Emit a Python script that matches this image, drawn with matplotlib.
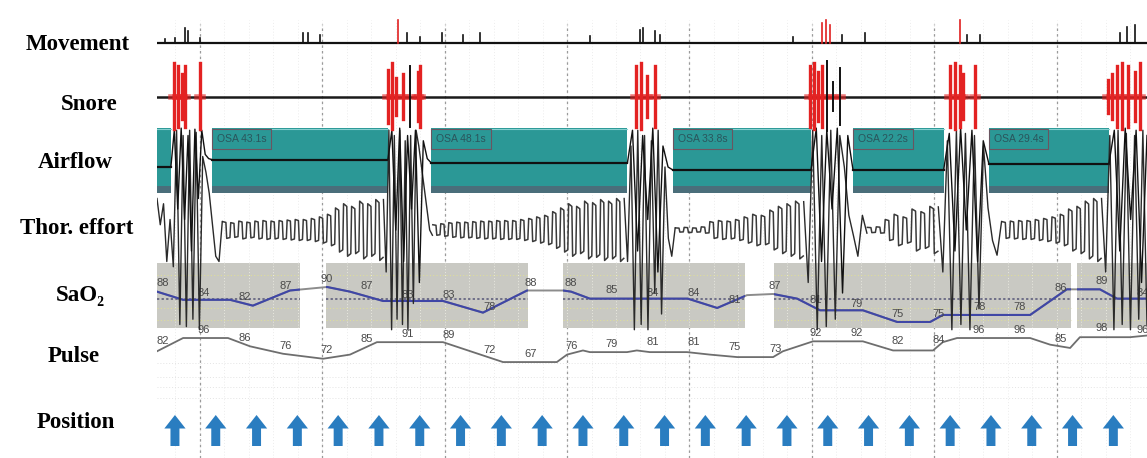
import numpy as np
import matplotlib.pyplot as plt
from matplotlib.patches import FancyArrow

W, H = 1147, 458
X0, X1 = 157, 1147          # left / right edge of the traces, px
PX_PER_S = 4.08
T_END = (X1 - X0) / PX_PER_S

# ---------------- data ----------------
# obstructive apnea events (airflow channel)
osa_start = [13.5, 67.2, 126.5, 170.6, 203.9]
osa_dur = [43.1, 48.1, 33.8, 22.2, 29.4]
osa_flow = [0.67, 0.64, 0.57, 0.57, 0.63]
prev_event = (0.0, 3.4, 0.60)     # tail of an event from the previous page

# thoracic effort during each apnea: one amplitude per breath
effort_win = [(16.0, 55.5), (67.5, 114.5), (127.0, 158.5), (174.0, 191.5), (207.0, 231.5)]
effort_amp = [
    [0.16, 0.14, 0.17, 0.15, 0.17, 0.18, 0.17, 0.18, 0.19, 0.20, 0.20, 0.22, 0.25, 0.30,
     0.42, 0.50, 0.45, 0.55, 0.50, 0.58],
    [0.10, 0.12, 0.14, 0.15, 0.15, 0.16, 0.17, 0.17, 0.18, 0.18, 0.18, 0.20, 0.22, 0.25,
     0.28, 0.35, 0.42, 0.50, 0.45, 0.55, 0.52, 0.58, 0.55, 0.60],
    [0.04, 0.05, 0.04, 0.06, 0.16, 0.18, 0.17, 0.20, 0.25, 0.30, 0.28, 0.38, 0.45, 0.50, 0.55],
    [0.05, 0.06, 0.20, 0.30, 0.25, 0.40, 0.35, 0.45],
    [0.16, 0.17, 0.18, 0.18, 0.20, 0.22, 0.25, 0.30, 0.40, 0.45, 0.55, 0.60],
]

# recovery breathing after each event (effort + airflow swings)
burst_win = [(0.0, 16.0), (55.5, 67.5), (114.5, 127.0), (158.5, 174.0), (191.5, 207.0), (231.5, T_END)]
burst_effort = [
    [0.30, 0.05, 0.25, -0.30, 0.10, -0.35, 0.95, -0.90, 0.90, -0.92, 0.95, -0.85, 0.93, -0.95,
     0.70, 0.55, 0.35, 0.05, -0.25, -0.30, 0.08],
    [0.29, -0.40, 0.95, -0.95, 0.90, -0.85, 0.95, -0.90, 0.85, -0.95, 0.90, -0.70, 0.95, 0.80,
     0.60, 0.40, 0.20, 0.00, -0.05],
    [0.30, -0.30, 0.80, -0.95, 0.95, -0.90, 0.90, -0.95, 0.85, -0.60, 0.95, -0.80, 0.60, -0.08,
     -0.25, 0.02],
    [0.27, -0.50, 0.95, -0.95, 0.90, -0.92, 0.95, -0.85, 0.90, 0.60, 0.14, -0.05, -0.25, 0.14, -0.03],
    [0.22, -0.40, 0.85, -0.95, 0.95, -0.90, 0.92, -0.95, 0.90, -0.75, 0.80, 0.21, -0.10, -0.24, 0.08],
    [0.30, -0.40, 0.90, -0.95, 0.95, -0.90, 0.92, -0.95, 0.90, -0.85, 0.95, -0.90],
]
flow_win = [(3.4, 13.5), (56.6, 67.2), (115.3, 126.5), (160.3, 170.6), (192.8, 203.9), (233.3, T_END)]
burst_flow = [
    [0.60, 0.95, 0.20, 0.97, 0.10, 0.90, -0.20, 0.96, 0.30, 0.95, 0.72, 0.68, 0.67],
    [0.67, 0.95, 0.00, 0.97, -0.30, 0.90, 0.20, 0.95, -0.50, 0.85, 0.68, 0.64],
    [0.64, 0.95, -0.20, 0.90, 0.10, 0.97, -0.40, 0.80, 0.60, 0.57],
    [0.57, 0.97, -0.30, 0.95, 0.20, 0.97, -0.60, 0.90, 0.57],
    [0.57, 0.92, -0.20, 0.97, 0.00, 0.95, -0.30, 0.85, 0.63],
    [0.63, 0.95, -0.20, 0.97, 0.10, 0.95, -0.50, 0.90],
]

# movement spikes (time s, height, red = flagged)
move_t = [2.0, 4.5, 6.9, 7.6, 10.5, 35.8, 37.0, 40.0, 59.1, 61.3, 64.5, 69.9, 75.0, 79.2,
          106.1, 118.4, 119.1, 122.1, 123.3, 155.9, 163.0, 164.0, 165.0, 167.9, 173.5,
          196.8, 198.5, 201.7, 236.0, 237.7, 239.7]
move_h = [4, 5, 15, 12, 5, 10, 10, 8, 23, 10, 6, 10, 8, 10,
          7, 13, 15, 12, 8, 6, 20, 23, 18, 8, 10,
          23, 8, 8, 10, 16, 18]
move_red = [False] * 8 + [True] + [False] * 11 + [True, True, True] + [False] * 2 + \
           [True] + [False] * 5

# snore spikes
snore_t = [4.2, 5.1, 6.1, 6.9, 10.5, 56.6, 57.6, 58.6, 60.3, 62.0, 64.0, 64.5,
           117.4, 118.6, 120.1, 122.1, 160.0, 161.0, 162.0, 163.0, 164.2, 165.7, 167.4,
           194.4, 195.6, 196.8, 197.5, 200.5, 233.1, 234.1, 235.3, 236.5, 238.0, 239.7, 240.9]
snore_amp = [32, 30, 22, 30, 32, 26, 32, 18, 22, 30, 24, 30,
             30, 32, 20, 30, 30, 32, 24, 30, 34, 14, 28,
             30, 32, 30, 22, 30, 16, 22, 30, 32, 30, 24, 32]
snore_black = [62.0, 164.2, 165.7, 167.4]

# SaO2 (%) trace and the shaded oximetry windows
sao2_t = [0, 6.4, 17.9, 23.5, 32.6, 41.7, 47.3, 55.4, 70.1, 79.9, 90.7, 99.5, 101.5, 106.1,
          130.1, 137.3, 144.6, 151.0, 156.9, 162.5, 173.0, 181.4, 189.5, 192.6, 214.0, 223.0,
          226.2, 231.1, 235.3, 242.6]
sao2_v = [88, 84.5, 84.5, 82, 88.5, 90, 88, 84, 84, 79, 88.5, 88.5, 88, 85,
          85, 81, 86.5, 87, 85, 80, 80, 75, 75, 78, 78, 89,
          89, 89, 85, 85]
sao2_boxes = [(0, 35.0), (41.4, 90.9), (99.5, 144.1), (151.2, 224.1), (225.5, T_END)]
sao2_labels = [88, 84, 82, 87, 90, 87, 83, 83, 78, 88, 88, 85, 84, 84, 81, 87, 81, 79, 75, 75,
               78, 78, 86, 89, 84]

# pulse (bpm)
pulse_t = [0, 6.4, 17.4, 22.8, 30.9, 40.7, 47.3, 53.9, 70.1, 79.9, 84.8, 98.0, 100.5, 104.4,
           106.1, 115.2, 117.6, 120.8, 129.9, 135.5, 142.2, 151.0, 153.4, 160.8, 173.0, 180.4,
           190.2, 192.6, 196.1, 214.0, 218.9, 223.8, 226.2, 238.5, 242.6]
pulse_v = [80, 96, 96, 86, 77, 71, 76, 91, 91, 75, 67, 67, 76, 81,
           79, 79, 81, 79, 79, 76, 73, 73, 80, 92, 92, 81,
           81, 91, 96, 96, 88, 84, 97, 97, 99]
pulse_labels = [82, 96, 86, 76, 72, 85, 91, 89, 72, 67, 76, 79, 81, 81, 75, 73, 92, 92, 82, 84,
                96, 96, 85, 98, 96]

# body position, one arrow per 10 s
position = ["supine"] * 24

channels = ["Movement", "Snore", "Airflow", "Thor. effort", "SaO\u2082", "Pulse", "Position"]
label_xy = [(78, 45), (89, 104), (75, 163), (77, 228), (80, 296), (74, 357), (76, 422)]

# ---------------- drawing ----------------
TEAL = "#2b9896"
fig = plt.figure(figsize=(W / 100, H / 100), dpi=100, facecolor="white")


def px_axes(top, bottom):
    ax = fig.add_axes([X0 / W, 1 - bottom / H, (X1 - X0) / W, (bottom - top) / H])
    ax.set_xlim(0, T_END)
    ax.axis("off")
    ax.patch.set_alpha(0)
    return ax


def breath_wave(t0, t1, amps):
    p = (t1 - t0) / len(amps)
    ts, vs = [], []
    for i, a in enumerate(amps):
        s = t0 + i * p
        ts += [s + 0.05 * p, s + 0.45 * p, s + 0.55 * p, s + 0.95 * p]
        vs += [a / 2, a / 2 * 0.9, -a / 2, -a / 2 * 0.9]
    return ts, vs


# background grid (layout only)
bg = px_axes(20, 458)
bg.set_ylim(458, 20)
for t in np.arange(4.5, T_END, 6):
    bg.axvline(t, color="#ececec", lw=0.7, ls=(0, (1, 2)))
for y in [363, 377, 387, 398]:
    bg.axhline(y, color="#e4e4e4", lw=0.7, ls=(0, (1, 2)))
for t in np.arange(10.5, T_END, 30):
    bg.axvline(t, ymin=0.0, ymax=0.99, color="#9a9a9a", lw=0.9, ls=(0, (2, 2.5)))

# SaO2
ax_s = px_axes(263, 328)
ax_s.set_ylim(72.4, 100.3)
boxes = []
for a, b in sao2_boxes:
    boxes.append(ax_s.axvspan(a, b, color="#c9c9c3", lw=0, zorder=0))
    for t in np.arange(4.5, T_END, 6):
        if a < t < b:
            ax_s.plot([t, t], [72.4, 100.3], color="#e9e9e0", lw=0.7, ls=(0, (1, 2)), zorder=1)
    for v in [95, 81, 76]:
        ax_s.plot([a, b], [v, v], color="#dede9a", lw=0.8, ls=(0, (1, 2)), zorder=1)
    ax_s.plot([a, b], [85, 85], color="#555577", lw=1.1, ls=(0, (1.5, 1.5)), zorder=2)
ax_s.plot(sao2_t, sao2_v, color="#8c8c8c", lw=1.4, zorder=3)
for box in boxes:
    ln, = ax_s.plot(sao2_t, sao2_v, color="#3f46a6", lw=1.5, zorder=4)
    ln.set_clip_path(box)
lab_t = np.arange(len(sao2_labels)) * 10 + 1.5
for t, v in zip(lab_t, sao2_labels):
    ax_s.annotate(str(v), (t, v), xytext=(0, 6), textcoords="offset points", ha="center",
                  va="center", fontsize=8, color="#4a4a4a", family="Liberation Sans", zorder=5)

# pulse
ax_p = px_axes(325, 375)
ax_p.set_ylim(51.4, 111.7)
ax_p.plot(pulse_t, pulse_v, color="#6e6e6e", lw=1.3)
for t, v in zip(lab_t, pulse_labels):
    ax_p.annotate(str(v), (t, v), xytext=(0, 6), textcoords="offset points", ha="center",
                  va="center", fontsize=8, color="#4a4a4a", family="Liberation Sans")

# position
ax_pos = px_axes(405, 455)
ax_pos.set_ylim(0, 1)
for i, code in enumerate(position):
    t = 4.4 + 10 * i
    if code == "supine":
        ax_pos.add_patch(FancyArrow(t, 0.18, 0, 0.62, width=2.2, head_width=5.2,
                                    head_length=0.27, length_includes_head=True,
                                    color="#2a7dc0", lw=0))

# airflow + thoracic effort
ax_r = px_axes(125, 335)
ax_r.set_ylim(-1, 1)
ev_boxes = [prev_event[:2]] + [(s, s + d) for s, d in zip(osa_start, osa_dur)]
for a, b in ev_boxes:
    ax_r.axvspan(a, b, ymin=0.676, ymax=0.986, color=TEAL, lw=0, zorder=1)
    ax_r.axvspan(a, b, ymin=0.676, ymax=0.71, color="#4a6e7a", lw=0, zorder=1)
    ax_r.plot([a, b], [0.965, 0.965], color="#86d0d0", lw=0.8, zorder=1)
ax_r.plot(prev_event[:2], [prev_event[2]] * 2, color="#111111", lw=1.6, zorder=2)
for s, d, f in zip(osa_start, osa_dur, osa_flow):
    ax_r.plot([s, s + d], [f, f], color="#111111", lw=1.6, zorder=2)
    ax_r.text(s + 1.2, 0.865, f"OSA {d}s", fontsize=7.5, color="#2a555c", va="center",
              family="Liberation Sans", zorder=3,
              bbox=dict(boxstyle="square,pad=0.45", fc=TEAL, ec="#6a5560", lw=0.8))
for (a, b), amps in zip(effort_win, effort_amp):
    ts, vs = breath_wave(a, b, amps)
    ax_r.plot(ts, vs, color="#3a3a3a", lw=1.1, zorder=4)
for (a, b), vals in zip(burst_win, burst_effort):
    ax_r.plot(np.linspace(a, b, len(vals)), vals, color="#2a2a2a", lw=1.0, zorder=4)
for (a, b), vals in zip(flow_win, burst_flow):
    ax_r.plot(np.linspace(a, b, len(vals)), vals, color="#111111", lw=1.0, zorder=4)

# movement
ax_m = px_axes(10, 48)
ax_m.set_ylim(-5, 33)
ax_m.plot([0, T_END], [0, 0], color="#111111", lw=1.6)
for t, h, red in zip(move_t, move_h, move_red):
    ax_m.plot([t, t], [0, h], color="#e02020" if red else "#111111", lw=1.2)

# snore
ax_n = px_axes(55, 135)
ax_n.set_ylim(-38, 42)
ax_n.plot([0, T_END], [0, 0], color="#1a1a1a", lw=1.8)
for t, a in zip(snore_t, snore_amp):
    black = t in snore_black
    ax_n.plot([t, t], [-a, a * 1.05], color="#111111" if black else "#e32222",
              lw=1.4 if black else 2.4, zorder=3)
    ax_n.plot([t - 0.8, t + 0.8], [0, 0], color="#e32222", lw=4, alpha=0.6, zorder=2)

# channel names
for name, (x, y) in zip(channels, label_xy):
    fig.text(x / W, 1 - y / H, name, ha="center", va="center", fontsize=16.5,
             fontweight="bold", family=["Liberation Serif", "DejaVu Serif"])

fig.savefig("out.png", dpi=100, facecolor="white")
